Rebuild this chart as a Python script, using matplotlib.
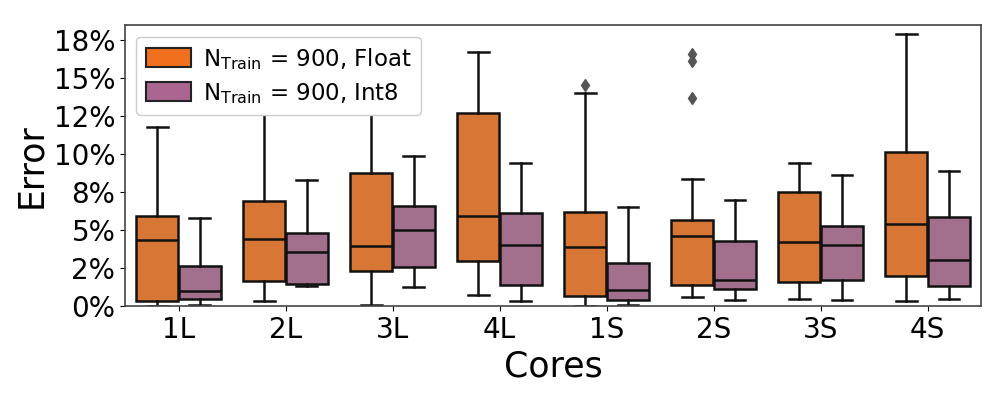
import numpy as np
import matplotlib
matplotlib.use("Agg")
import matplotlib.pyplot as plt
from matplotlib.patches import Patch
from matplotlib.ticker import MultipleLocator, FuncFormatter

plt.rcParams['mathtext.default'] = 'regular'

# Data (box statistics per core)
cores = ["1L", "2L", "3L", "4L", "1S", "2S", "3S", "4S"]

float_whislo = [0.0000, 0.0035, 0.0004, 0.0075, 0.0002, 0.0057, 0.0044, 0.0035]
float_q1     = [0.0035, 0.0162, 0.0233, 0.0297, 0.0066, 0.0139, 0.0156, 0.0198]
float_med    = [0.0437, 0.0442, 0.0393, 0.0591, 0.0391, 0.0464, 0.0424, 0.0541]
float_q3     = [0.0596, 0.0690, 0.0877, 0.1270, 0.0617, 0.0565, 0.0749, 0.1013]
float_whishi = [0.1178, 0.1600, 0.1550, 0.1675, 0.1400, 0.0838, 0.0945, 0.1794]
float_fliers = [[], [], [], [], [0.1453], [0.1662, 0.1611, 0.1372], [], []]

int8_whislo = [0.0007, 0.0129, 0.0123, 0.0030, 0.0007, 0.0042, 0.0040, 0.0048]
int8_q1     = [0.0046, 0.0145, 0.0259, 0.0136, 0.0037, 0.0110, 0.0169, 0.0132]
int8_med    = [0.0099, 0.0354, 0.0503, 0.0402, 0.0103, 0.0169, 0.0402, 0.0301]
int8_q3     = [0.0264, 0.0479, 0.0660, 0.0611, 0.0286, 0.0429, 0.0528, 0.0589]
int8_whishi = [0.0580, 0.0833, 0.0990, 0.0945, 0.0655, 0.0701, 0.0864, 0.0890]
int8_fliers = [[], [], [], [], [], [], [], []]

labels = [r"$N_{Train}$ = 900, Float", r"$N_{Train}$ = 900, Int8"]
box_colors = ["#d87636", "#a26f8c"]
legend_colors = ["#f0701e", "#aa6690"]


def make_stats(lo, q1, med, q3, hi, fl):
    return [dict(whislo=a, q1=b, med=c, q3=d, whishi=e, fliers=f)
            for a, b, c, d, e, f in zip(lo, q1, med, q3, hi, fl)]


fig, ax = plt.subplots(figsize=(9.96, 3.99), dpi=100)
fig.subplots_adjust(left=0.1255, right=0.985, top=0.937, bottom=0.233)

x = np.arange(len(cores))
groups = [
    make_stats(float_whislo, float_q1, float_med, float_q3, float_whishi, float_fliers),
    make_stats(int8_whislo, int8_q1, int8_med, int8_q3, int8_whishi, int8_fliers),
]
offsets = [-0.2, 0.2]

for stats, off, col in zip(groups, offsets, box_colors):
    ax.bxp(stats, positions=x + off, widths=0.39, patch_artist=True,
           showfliers=True, manage_ticks=False,
           boxprops=dict(facecolor=col, edgecolor="#111111", linewidth=1.8),
           medianprops=dict(color="#111111", linewidth=1.8),
           whiskerprops=dict(color="#111111", linewidth=1.8),
           capprops=dict(color="#111111", linewidth=1.8),
           flierprops=dict(marker="d", markerfacecolor="#555555",
                           markeredgecolor="#555555", markersize=6))

ax.set_xlim(-0.5, len(cores) - 0.5)
ax.set_ylim(0, 0.185)
ax.set_xticks(x)
ax.set_xticklabels(cores)
ax.yaxis.set_major_locator(MultipleLocator(0.025))
ax.yaxis.set_major_formatter(FuncFormatter(lambda v, p: f"{round(v * 100, 6):.0f}%"))
ax.tick_params(labelsize=20)
for s in ax.spines.values():
    s.set_color("#444444")
    s.set_linewidth(1.2)

ax.set_xlabel("Cores", fontsize=25)
ax.set_ylabel("Error", fontsize=25)

handles = [Patch(facecolor=c, edgecolor="#222222", linewidth=1.5) for c in legend_colors]
ax.legend(handles, labels, loc="upper left", fontsize=16.5, handlelength=2,
          handleheight=0.9, borderaxespad=0.5, labelspacing=0.4,
          handletextpad=0.5, framealpha=1)

plt.savefig("out.png", dpi=100)
